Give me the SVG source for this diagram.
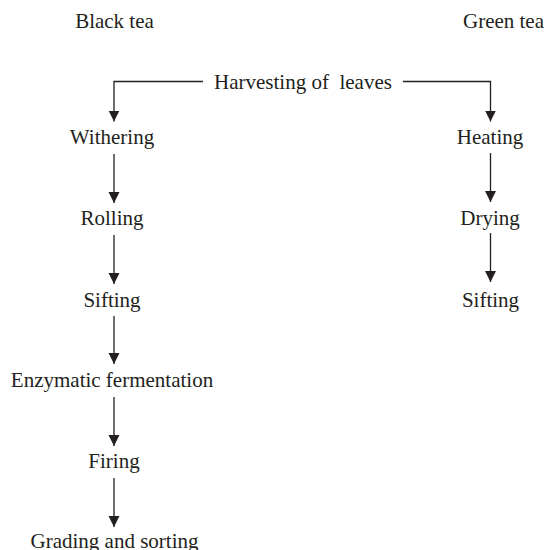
<svg xmlns="http://www.w3.org/2000/svg" width="546" height="550" viewBox="0 0 546 550">
<style>
text{font-family:'Liberation Serif','Times New Roman','DejaVu Serif',serif;font-size:21px;fill:#231f20;text-anchor:middle}
.c{fill:none;stroke:#231f20;stroke-width:1.3}
</style>
<defs>
<marker id="ah" viewBox="0 0 12 12" refX="12" refY="6" markerWidth="11" markerHeight="12" markerUnits="userSpaceOnUse" orient="auto">
<path d="M0,0 L12,6 L0,12 z" fill="#231f20"/>
</marker>
</defs>
<rect width="546" height="550" fill="#fff"/>
<g font-family="Liberation Serif, DejaVu Serif, serif">
<g id="black-tea"><text x="114.5" y="28">Black tea</text></g>
<g id="green-tea"><text x="503.5" y="28">Green tea</text></g>
<g id="harvesting"><text x="303" y="89" xml:space="preserve">Harvesting of  leaves</text></g>
<g id="withering"><text x="112" y="144">Withering</text></g>
<g id="rolling"><text x="112" y="225">Rolling</text></g>
<g id="sifting-b"><text x="112" y="307">Sifting</text></g>
<g id="enzymatic"><text x="112" y="387">Enzymatic fermentation</text></g>
<g id="firing"><text x="114" y="468">Firing</text></g>
<g id="grading"><text x="114.5" y="548">Grading and sorting</text></g>
<g id="heating"><text x="490" y="144">Heating</text></g>
<g id="drying"><text x="490" y="225">Drying</text></g>
<g id="sifting-g"><text x="490.5" y="307">Sifting</text></g>
</g>
<g id="connectors">
<path class="c" d="M203,81.5 H114 V121.5" marker-end="url(#ah)"/>
<path class="c" d="M403,81.5 H490.5 V121.5" marker-end="url(#ah)"/>
<path class="c" d="M114,154 V203" marker-end="url(#ah)"/>
<path class="c" d="M114,235 V284" marker-end="url(#ah)"/>
<path class="c" d="M114,316 V364" marker-end="url(#ah)"/>
<path class="c" d="M114,397 V446" marker-end="url(#ah)"/>
<path class="c" d="M114,478 V527" marker-end="url(#ah)"/>
<path class="c" d="M490.5,153 V202" marker-end="url(#ah)"/>
<path class="c" d="M490.5,233 V282" marker-end="url(#ah)"/>
</g>
</svg>
